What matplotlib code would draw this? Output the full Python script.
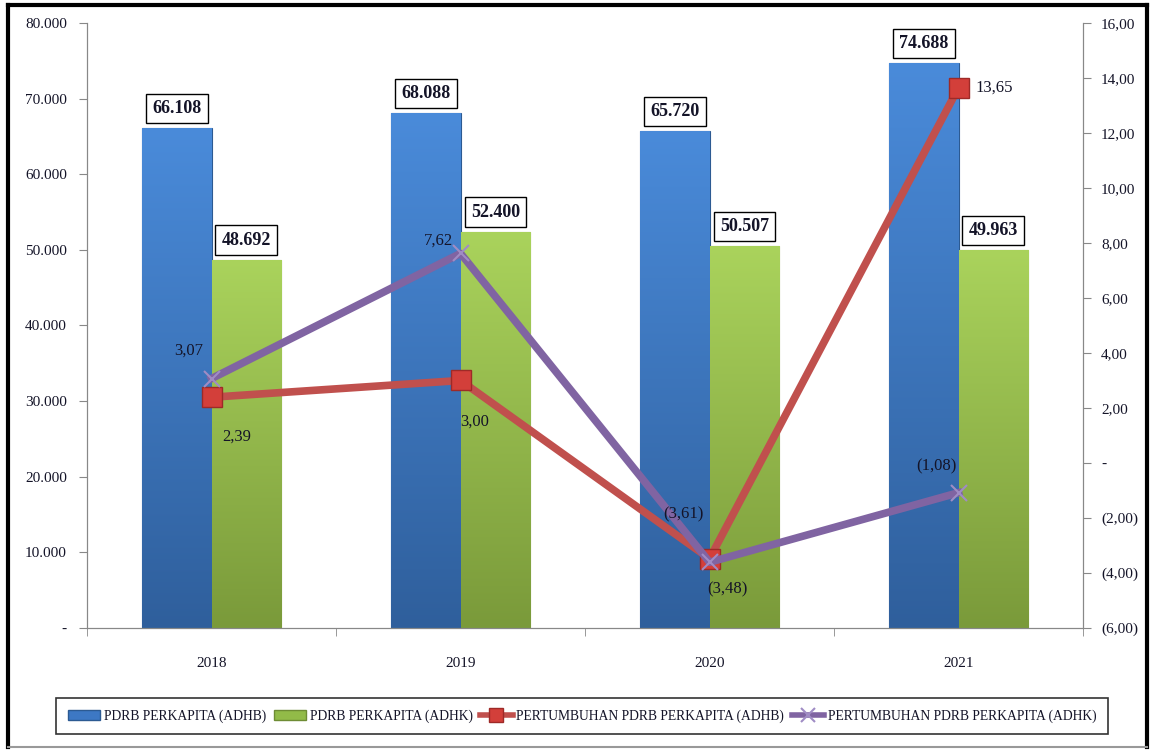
import numpy as np
import matplotlib
matplotlib.use("Agg")
import matplotlib.pyplot as plt
from matplotlib.colors import LinearSegmentedColormap
from matplotlib.lines import Line2D
from matplotlib.patches import Patch
from matplotlib.ticker import FuncFormatter, FixedLocator

plt.rcParams['font.family'] = ['Liberation Serif', 'DejaVu Serif']
TXT = "#141428"
plt.rcParams['text.color'] = TXT

years = ["2018", "2019", "2020", "2021"]
pdrb_adhb = [66108, 68088, 65720, 74688]
pdrb_adhk = [48692, 52400, 50507, 49963]
growth_adhb = [2.39, 3.00, -3.48, 13.65]
growth_adhk = [3.07, 7.62, -3.61, -1.08]
series_names = ["PDRB PERKAPITA (ADHB)", "PDRB PERKAPITA (ADHK)",
                "PERTUMBUHAN PDRB PERKAPITA (ADHB)", "PERTUMBUHAN PDRB PERKAPITA (ADHK)"]

BLUE_TOP, BLUE_BOT = "#4A8BDA", "#2F5F9C"
GREEN_TOP, GREEN_BOT = "#AAD35C", "#7A9A3A"
RED = "#C0504D"
PURPLE = "#8064A2"


def thousands(v, pos=None):
    if abs(v) < 1e-9:
        return "-"
    return f"{v:,.0f}".replace(",", ".")


def pct(v, pos=None):
    if abs(v) < 1e-9:
        return "-"
    s = f"{abs(v):.2f}".replace(".", ",")
    return f"({s})" if v < 0 else s


def gradient_fill(ax, bars, top, bottom):
    cmap = LinearSegmentedColormap.from_list("g", [bottom, top])
    grad = np.linspace(0, 1, 256).reshape(-1, 1)
    for b in bars:
        x0, y0 = b.get_x(), b.get_y()
        w, h = b.get_width(), b.get_height()
        b.set_facecolor("none")
        im = ax.imshow(grad, cmap=cmap, aspect="auto", origin="lower",
                       extent=(x0, x0 + w, y0, y0 + h), zorder=b.get_zorder(),
                       interpolation="bicubic")
        im.set_clip_path(b)


fig = plt.figure(figsize=(11.5, 7.5), dpi=100)
ax = fig.add_axes([0.0757, 0.1627, 0.8661, 0.8067])
ax2 = ax.twinx()

x = np.arange(len(years))
bw = 0.28
b1 = ax.bar(x - bw / 2, pdrb_adhb, bw, edgecolor="#2C5A92", linewidth=0.8, zorder=2)
b2 = ax.bar(x + bw / 2, pdrb_adhk, bw, edgecolor="#6E8C34", linewidth=0.8, zorder=2)
gradient_fill(ax, b1, BLUE_TOP, BLUE_BOT)
gradient_fill(ax, b2, GREEN_TOP, GREEN_BOT)

box = dict(boxstyle="square,pad=0.35", fc="white", ec="black", lw=1.0)
for xi, v in zip(x - bw / 2, pdrb_adhb):
    ax.annotate(thousands(v), (xi, v), xytext=(0, 8), textcoords="offset points",
                ha="center", va="bottom", fontsize=13, fontweight="bold", bbox=box, zorder=5)
for xi, v in zip(x + bw / 2, pdrb_adhk):
    ax.annotate(thousands(v), (xi, v), xytext=(0, 8), textcoords="offset points",
                ha="center", va="bottom", fontsize=13, fontweight="bold", bbox=box, zorder=5)

ax.set_xlim(-0.5, len(years) - 0.5)
ax.set_ylim(0, 80000)
ax.yaxis.set_major_locator(FixedLocator(np.arange(0, 80001, 10000)))
ax.yaxis.set_major_formatter(FuncFormatter(thousands))
ax.set_xticks(x)
ax.set_xticklabels(years)
ax.set_xticks(np.arange(-0.5, len(years)), minor=True)
ax.tick_params(axis="x", which="major", length=0, pad=21, labelsize=11, labelcolor=TXT)
ax.tick_params(axis="x", which="minor", length=6, color="#888888")
ax.tick_params(axis="y", length=6, color="#888888", labelsize=11, pad=8.5, labelcolor=TXT)

ax2.set_ylim(-6, 16)
ax2.yaxis.set_major_locator(FixedLocator(np.arange(-6, 16.1, 2)))
ax2.yaxis.set_major_formatter(FuncFormatter(pct))
ax2.tick_params(axis="y", length=6, color="#888888", labelsize=11, pad=7, labelcolor=TXT)

for a in (ax, ax2):
    a.spines["top"].set_visible(False)
    a.spines["bottom"].set_color("#888888")
    a.spines["left"].set_color("#888888")
    a.spines["right"].set_color("#888888")

ax2.plot(x, growth_adhb, color=RED, lw=5.5, marker="s", markersize=15,
         markerfacecolor="#D33F3A", markeredgecolor="#9E2A27", markeredgewidth=1.0,
         solid_capstyle="butt", zorder=3)
ax2.plot(x, growth_adhk, color=PURPLE, lw=5.5, marker="x", markersize=12,
         markeredgewidth=1.5, markeredgecolor="#A08CC4", zorder=4)

adhb_offsets = [(25, -39), (14, -41), (18, -31), (36, 0)]
adhk_offsets = [(-23, 28), (-22, 13), (-26, 48), (-22, 26)]
for xi, v, off in zip(x, growth_adhb, adhb_offsets):
    ax2.annotate(pct(v), (xi, v), xytext=off, textcoords="offset pixels",
                 ha="center", va="center", fontsize=12, zorder=6)
for xi, v, off in zip(x, growth_adhk, adhk_offsets):
    ax2.annotate(pct(v), (xi, v), xytext=off, textcoords="offset pixels",
                 ha="center", va="center", fontsize=12, zorder=6)

handles = [
    Patch(facecolor="#3D78C4", edgecolor="#2C5A92"),
    Patch(facecolor="#92BB48", edgecolor="#6E8C34"),
    Line2D([], [], color=RED, lw=4, marker="s", markersize=10,
           markerfacecolor="#D33F3A", markeredgecolor="#9E2A27"),
    Line2D([], [], color=PURPLE, lw=4, marker="x", markersize=10,
           markeredgecolor="#A08CC4", markeredgewidth=1.5),
]
leg = fig.legend(handles, series_names, loc="center", ncol=4,
                 bbox_to_anchor=(582 / 1150, 1 - 716 / 750), frameon=True, fancybox=False,
                 edgecolor="black", fontsize=9.8, handlelength=2.4, handleheight=0.7,
                 handletextpad=0.25, columnspacing=0.55, borderpad=0.85, borderaxespad=0)
leg.get_frame().set_linewidth(1.2)

# outer frame around the whole chart
W, H = 1150, 750
fig.add_artist(Line2D([8 / W, 8 / W], [3 / H, 745 / H], color="black", lw=3))
fig.add_artist(Line2D([8 / W, 1147 / W], [745 / H, 745 / H], color="black", lw=3))
fig.add_artist(Line2D([1147 / W, 1147 / W], [3 / H, 745 / H], color="black", lw=3))
fig.add_artist(Line2D([8 / W, 1147 / W], [3 / H, 3 / H], color="#999999", lw=1.5))

fig.savefig("out.png", dpi=100)
